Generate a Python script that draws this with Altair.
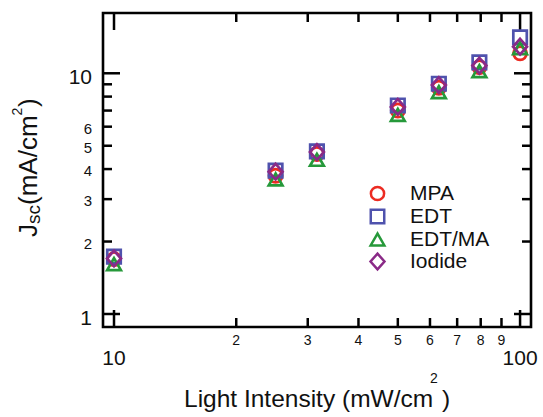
import altair as alt
import pandas as pd

# ---------------- data ----------------
intensity = [10, 25, 31.6, 50, 63.1, 79.4, 100]
mpa = [1.69, 3.75, 4.62, 7.00, 8.70, 10.6, 12.1]
edt = [1.73, 3.94, 4.74, 7.35, 9.05, 11.1, 14.1]
edt_ma = [1.61, 3.62, 4.37, 6.72, 8.35, 10.2, 12.7]
iodide = [1.70, 3.90, 4.71, 7.25, 8.93, 10.76, 12.9]

series = ["MPA", "EDT", "EDT/MA", "Iodide"]
colors = ["#ec2b22", "#4f52ad", "#26993a", "#8a2a87"]
shapes = ["circle", "square", "triangle-up", "M0,-1.12L1,0L0,1.12L-1,0Z"]
sizes = [175, 195, 220, 225]

x_major = [10, 100]
x_minor = [20, 30, 40, 50, 60, 70, 80, 90]
x_minor_labels = ["2", "3", "4", "5", "6", "7", "8", "9"]
x_major_labels = ["10", "100"]

y_major = [1, 10]
y_minor = [2, 3, 4, 5, 6, 7, 8, 9]
y_minor_lab_vals = [2, 3, 4, 5, 6]
y_minor_labels = ["2", "3", "4", "5", "6"]
y_major_labels = ["1", "10"]

# ---------------- layout ----------------
W, H = 428, 314
FONT = "Liberation Sans"
MAJ, MIN = 17, 9
TW = 2.5

rows = []
for s, vals in zip(series, [mpa, edt, edt_ma, iodide]):
    for xi, yi in zip(intensity, vals):
        rows.append({"I": xi, "J": yi, "series": s})
df = pd.DataFrame(rows)

xs = alt.Scale(type="log", domain=[9.395, 106.4], nice=False)
ys = alt.Scale(type="log", domain=[0.883, 17.8], nice=False)

leg = alt.Legend(
    orient="none", legendX=264, legendY=170, title=None,
    labelFont=FONT, labelFontSize=21, labelColor="#111",
    symbolStrokeWidth=2.5, symbolSize=115, rowPadding=-3,
    labelOffset=22, padding=0,
)

points = alt.Chart(df).mark_point(filled=False, strokeWidth=2.7, opacity=1).encode(
    x=alt.X("I:Q", scale=xs, axis=None),
    y=alt.Y("J:Q", scale=ys, axis=None),
    color=alt.Color("series:N", scale=alt.Scale(domain=series, range=colors), legend=leg),
    shape=alt.Shape("series:N", scale=alt.Scale(domain=series, range=shapes), legend=leg),
    size=alt.Size("series:N", scale=alt.Scale(domain=series, range=sizes), legend=None),
)

def vdf(vals):
    return pd.DataFrame({"v": vals})

def xtick(vals, length, top):
    y0 = 0 if top else H
    y1 = length if top else H - length
    return alt.Chart(vdf(vals)).mark_rule(color="black", strokeWidth=TW).encode(
        x=alt.X("v:Q", scale=xs, axis=None), y=alt.value(y0), y2=alt.value(y1))

def ytick(vals, length, right):
    x0 = W if right else 0
    x1 = W - length if right else length
    return alt.Chart(vdf(vals)).mark_rule(color="black", strokeWidth=TW).encode(
        y=alt.Y("v:Q", scale=ys, axis=None), x=alt.value(x0), x2=alt.value(x1))

ticks = [
    xtick(x_major, MAJ, False), xtick(x_minor, MIN, False),
    xtick(x_major, MAJ, True), xtick(x_minor, MIN, True),
    ytick(y_major, MAJ, False), ytick(y_minor, MIN, False),
    ytick(y_major, MAJ, True), ytick(y_minor, MIN, True),
]

frame = alt.Chart(pd.DataFrame({"t": [0]})).mark_rect(
    fillOpacity=0, stroke="black", strokeWidth=2.6).encode(
    x=alt.value(0), x2=alt.value(W), y=alt.value(0), y2=alt.value(H))

xlab_minor = alt.Chart(pd.DataFrame({"v": x_minor, "t": x_minor_labels})).mark_text(
    font=FONT, fontSize=14, baseline="alphabetic", color="#111").encode(
    x=alt.X("v:Q", scale=xs, axis=None), y=alt.value(332), text="t:N")
xlab_major = alt.Chart(pd.DataFrame({"v": x_major, "t": x_major_labels})).mark_text(
    font=FONT, fontSize=21, baseline="alphabetic", color="#111").encode(
    x=alt.X("v:Q", scale=xs, axis=None), y=alt.value(352), text="t:N")
ylab_minor = alt.Chart(pd.DataFrame({"v": y_minor_lab_vals, "t": y_minor_labels})).mark_text(
    font=FONT, fontSize=15, baseline="alphabetic", align="right", dy=7, color="#111").encode(
    y=alt.Y("v:Q", scale=ys, axis=None), x=alt.value(-11), text="t:N")
ylab_major = alt.Chart(pd.DataFrame({"v": y_major, "t": y_major_labels})).mark_text(
    font=FONT, fontSize=21, baseline="alphabetic", align="right", dy=11, color="#111").encode(
    y=alt.Y("v:Q", scale=ys, axis=None), x=alt.value(-11), text="t:N")

def txt(t, x, y, size, angle=0, align="left"):
    kw = dict(font=FONT, fontSize=size, baseline="alphabetic", align=align, color="#111")
    if angle:
        kw["angle"] = angle
    return alt.Chart(pd.DataFrame({"t": [t]})).mark_text(**kw).encode(
        x=alt.value(x), y=alt.value(y), text="t:N")

titles = [
    txt("Light Intensity (mW/cm", 81, 394, 24.5),
    txt("2", 327, 370, 14),
    txt(")", 339, 394, 24.5),
    txt("J", -66, 224, 26, angle=270),
    txt("sc", -63, 211, 19, angle=270),
    txt("(mA/cm", -66, 192, 26, angle=270),
    txt("2", -81, 102.6, 14, angle=270),
    txt(")", -66, 94, 26, angle=270),
]

chart = alt.layer(*ticks, frame, xlab_minor, xlab_major, ylab_minor, ylab_major, *titles, points).properties(
    width=W, height=H,
    autosize=alt.AutoSizeParams(type="none"),
    padding={"left": 103, "top": 13, "right": 12, "bottom": 90},
).configure_view(stroke=None).configure(background="white")

chart.save("out.html", embed_options={"renderer": "svg", "actions": False})
